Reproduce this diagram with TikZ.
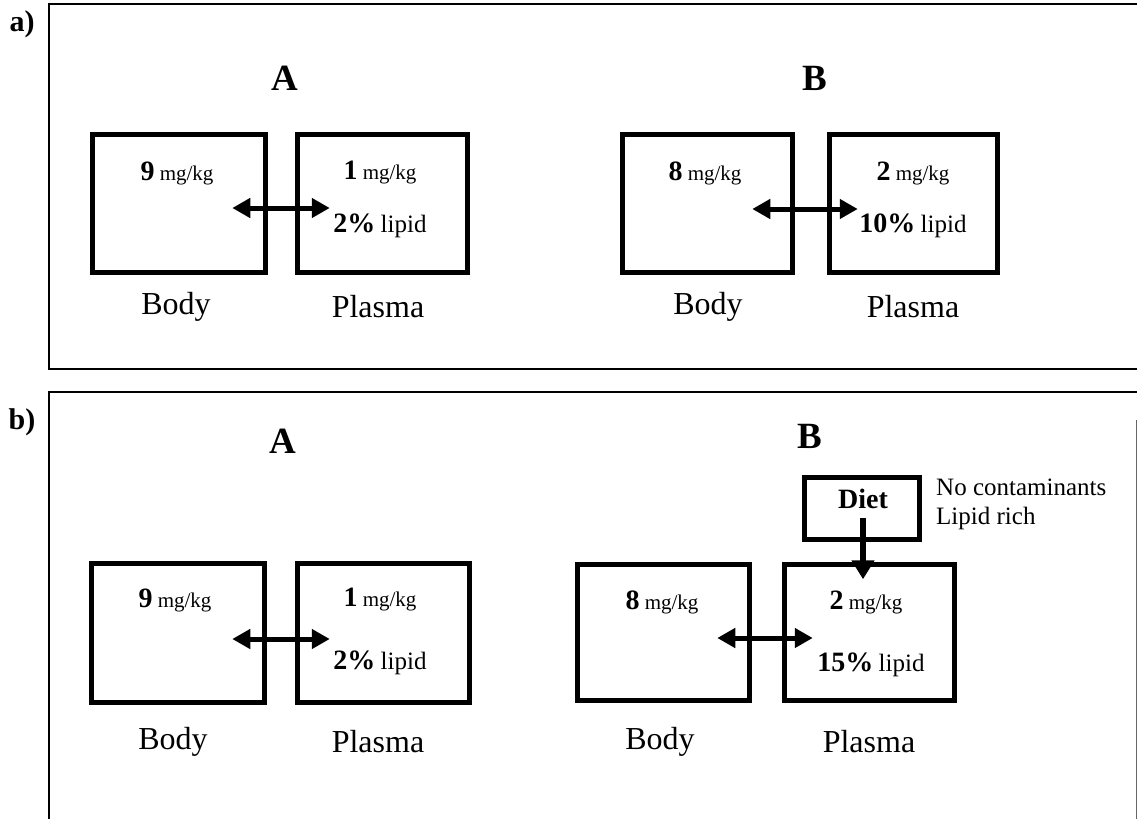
\documentclass[tikz,border=0pt]{standalone}
\usepackage{fontspec}
\setmainfont{Liberation Serif}
\usetikzlibrary{arrows.meta,calc}
\begin{document}
\begin{tikzpicture}[x=1pt,y=-1pt,
  frame/.style={line width=1.8pt},
  compbox/.style={draw,line width=5.5pt,inner sep=0pt},
  lbl/.style={font=\fontsize{32}{36}\selectfont,inner sep=0pt},
  ttl/.style={font=\bfseries\fontsize{37}{42}\selectfont,inner sep=0pt},
  panel/.style={font=\bfseries\fontsize{30}{34}\selectfont,inner sep=0pt},
  conc/.style={font=\fontsize{21}{25}\selectfont,inner sep=0pt},
  side/.style={font=\fontsize{25}{29}\selectfont,inner sep=0pt,align=left,anchor=west},
  dbl/.style={line width=5pt,{Triangle[length=18pt,width=19pt]}-{Triangle[length=18pt,width=19pt]}},
  feed/.style={line width=5.5pt,-{Triangle[length=19pt,width=22pt]}}
]
\newcommand{\bignum}[1]{\textbf{\fontsize{28}{30}\selectfont #1}}
\useasboundingbox (0,0) rectangle (1137,819);
% frames
\draw[frame] (1137,4) -- (49,4) -- (49,369) -- (1137,369);
\draw[frame] (1137,392) -- (49,392) -- (49,819);
\draw[line width=1pt,black!60] (1136,420) -- (1136,819);
\node[panel] (pa) at (22,24) {a)};
\node[panel] (pb) at (22,422) {b)};
% ---------- panel a, A
\node[ttl] (tA1) at (285,78) {A};
\node[compbox,minimum width=173pt,minimum height=138pt] (bodyA1) at (179,203.5) {};
\node[compbox,minimum width=170pt,minimum height=138pt] (plasA1) at (382.5,203.5) {};
\node[conc] (cA1b) at (177,173) {\bignum{9} mg/kg};
\node[conc] (cA1p) at (380,173) {\bignum{1} mg/kg};
\node[conc] (lA1) at (380,226) {\bignum{2\%} \fontsize{25}{28}\selectfont lipid};
\node[lbl] (nA1b) at (176,307) {Body};
\node[lbl] (nA1p) at (378,307) {Plasma};
\draw[dbl] ($(bodyA1.east)+(-36,4.5)$) -- ($(plasA1.west)+(35,4.5)$);
% ---------- panel a, B
\node[ttl] (tB1) at (815,78) {B};
\node[compbox,minimum width=170pt,minimum height=138pt] (bodyB1) at (707.5,203.5) {};
\node[compbox,minimum width=168pt,minimum height=138pt] (plasB1) at (913.5,203.5) {};
\node[conc] (cB1b) at (705,173) {\bignum{8} mg/kg};
\node[conc] (cB1p) at (913,173) {\bignum{2} mg/kg};
\node[conc] (lB1) at (913,226) {\bignum{10\%} \fontsize{25}{28}\selectfont lipid};
\node[lbl] (nB1b) at (708,307) {Body};
\node[lbl] (nB1p) at (913,307) {Plasma};
\draw[dbl] ($(bodyB1.east)+(-43,5.5)$) -- ($(plasB1.west)+(31,5.5)$);
% ---------- panel b, A
\node[ttl] (tA2) at (283,441) {A};
\node[compbox,minimum width=173pt,minimum height=139pt] (bodyA2) at (178,633) {};
\node[compbox,minimum width=172pt,minimum height=139pt] (plasA2) at (383.5,633) {};
\node[conc] (cA2b) at (175,600) {\bignum{9} mg/kg};
\node[conc] (cA2p) at (380,600) {\bignum{1} mg/kg};
\node[conc] (lA2) at (380,663) {\bignum{2\%} \fontsize{25}{28}\selectfont lipid};
\node[lbl] (nA2b) at (173,742) {Body};
\node[lbl] (nA2p) at (378,742) {Plasma};
\draw[dbl] ($(bodyA2.east)+(-35,6)$) -- ($(plasA2.west)+(35,6)$);
% ---------- panel b, B
\node[ttl] (tB2) at (810,436) {B};
\node[compbox,minimum width=172pt,minimum height=136pt] (bodyB2) at (663.5,632.5) {};
\node[compbox,minimum width=170pt,minimum height=136pt] (plasB2) at (869.5,632.5) {};
\node[compbox,minimum width=115pt,minimum height=62pt] (diet) at (862,508.5) {};
\node[font=\bfseries\fontsize{28}{30}\selectfont,inner sep=0pt] (dietT) at (863,499) {Diet};
\node[side] (note) at (936,504) {No contaminants\\Lipid rich};
\node[conc] (cB2b) at (662,602) {\bignum{8} mg/kg};
\node[conc] (cB2p) at (866,602) {\bignum{2} mg/kg};
\node[conc] (lB2) at (871,665) {\bignum{15\%} \fontsize{25}{28}\selectfont lipid};
\node[lbl] (nB2b) at (660,742) {Body};
\node[lbl] (nB2p) at (869,742) {Plasma};
\draw[dbl] ($(bodyB2.east)+(-35,5.5)$) -- ($(plasB2.west)+(31,5.5)$);
\draw[feed] ($(diet.center)+(1,9.5)$) -- ($(plasB2.north)+(-6.5,17.5)$);
\end{tikzpicture}
\end{document}
